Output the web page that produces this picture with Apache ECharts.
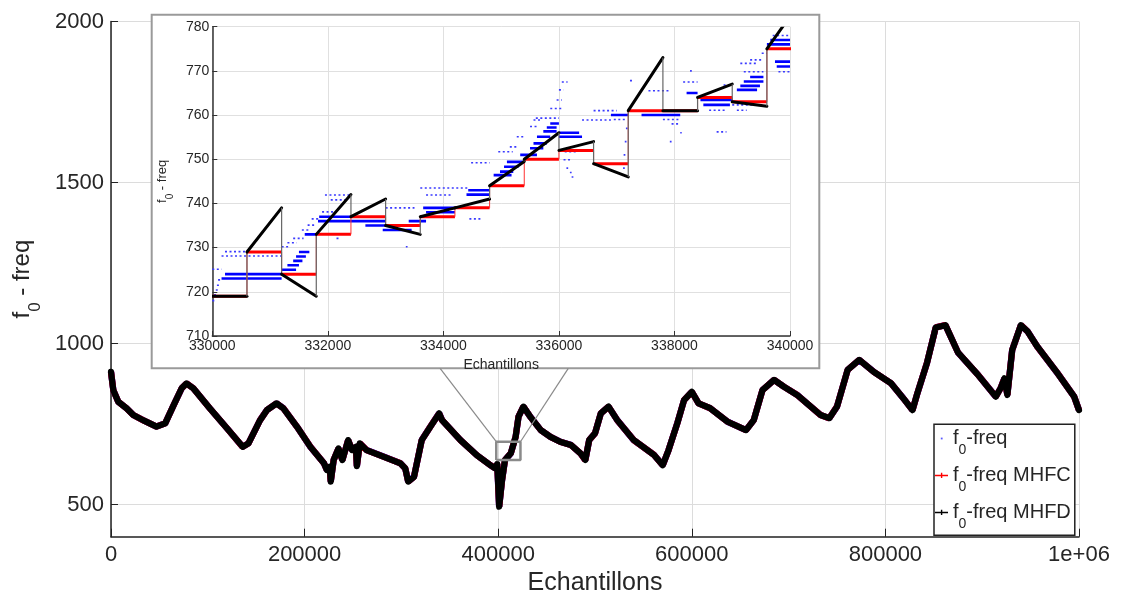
<!DOCTYPE html>
<html><head><meta charset="utf-8">
<script src="https://cdn.jsdelivr.net/npm/echarts@6.0.0/dist/echarts.min.js"></script>
<style>html,body{margin:0;padding:0;background:#fff;}#c{width:1122px;height:592px;}</style>
</head><body><div id="c"></div>
<script>
// ---------- main plot data : [sample, f0] ----------
const mainCurve = [[0,912],[2400,855],[7500,819],[16000,799],[23000,778],[33000,762],[47000,742],[56000,752],[64000,804],[73000,861],[78000,876],[85000,861],[102000,799],[120000,736],[136000,679],[142000,690],[154000,762],[161000,793],[171000,814],[178000,799],[192000,742],[206000,679],[220000,628],[223000,607],[226000,617],[227000,571],[230000,638],[235000,674],[239000,638],[245000,700],[249000,669],[253000,679],[254000,619],[257000,690],[264000,669],[282000,648],[299000,628],[304000,612],[307000,571],[313000,586],[321000,700],[330000,742],[339000,783],[342000,762],[361000,700],[378000,653],[392000,622],[397000,612],[399000,626],[401000,493],[404000,576],[407000,638],[413000,659],[418000,710],[421000,773],[426000,804],[433000,773],[444000,731],[454000,710],[464000,695],[475000,685],[485000,659],[490000,638],[494000,700],[500000,721],[506000,783],[514000,804],[523000,762],[540000,700],[561000,654],[570000,622],[576000,669],[585000,752],[592000,824],[600000,850],[607000,814],[619000,799],[637000,757],[656000,731],[664000,762],[673000,855],[685000,887],[695000,866],[709000,840],[719000,814],[733000,778],[742000,768],[750000,804],[761000,918],[773000,949],[788000,912],[806000,876],[819000,828],[828000,793],[833000,845],[843000,940],[852000,1050],[862000,1057],[875000,972],[895000,905],[914000,835],[919000,861],[923000,892],[926000,840],[931000,980],[940000,1057],[947000,1037],[957000,990],[978000,907],[995000,835],[1000000,793]];
const mainYTicks = [500, 1000, 1500, 2000];
const zoomBoxSamples = [398000, 423000];
const zoomBoxF0 = [638, 695];

// ---------- inset data ----------
const mhfBlockStart = [330000,330600,331200,331800,332400,333000,333600,334200,334800,335400,336000,336600,337200,337800,338400,339000,339600];
const mhfBlockEnd   = [330600,331200,331800,332400,333000,333600,334200,334800,335400,336000,336600,337200,337800,338400,339000,339600,340200];
const mhfcF0      = [719,729,724,733,737,735,737,739,744,750,752,749,761,761,764,763,775];
const mhfdF0Start = [719,729,724,733,737,735,737,739,744,750,752,749,761,761,764,763,775];
const mhfdF0End   = [719,739,719,742,741,733,739,741,749.5,756,754,746,773,761,767,762,786];
// raw f0 estimates: dense runs and sparse runs [fromSample, toSample, f0]
const blueDense = [[330160,331200,723],[330220,331200,724],[331200,331450,725],[331300,331500,726],[331400,331560,727],[331450,331620,728],[331500,331680,729],[331600,331800,733],[331830,332400,736],[331850,332400,737],[332400,333000,736],[332650,333100,735],[332950,333450,734],[333400,333700,736],[333650,334200,739],[333700,334200,738],[334400,334800,742],[334430,334800,743],[334870,335180,746.4],[334980,335210,747.2],[335050,335300,748.3],[335100,335390,749.4],[335330,335620,751],[335500,335730,752.5],[335560,335790,753.6],[335620,335850,755.1],[335730,335960,756.3],[335790,335960,757.2],[335850,336000,758.1],[336000,336350,756],[336000,336400,755.1],[336900,337200,760],[337430,338100,760],[338210,338400,765],[338450,339010,763.4],[338500,338960,762.3],[339080,339430,765.7],[339140,339480,766.6],[339200,339540,767.6],[339310,339540,768.6],[339600,340000,776],[339660,340000,777],[339740,340000,772.1],[339770,340000,771]];
const blueSparse = [[330000,330040,718],[330030,330070,719.3],[330060,330100,720.4],[330080,330120,721.5],[330100,330150,722.7],[330000,330160,725.1],[330160,331250,728.1],[330220,330600,729.1],[331200,331350,730.2],[331300,331460,731.1],[331400,331580,732.1],[331550,331700,734],[331650,331800,735.1],[331720,331850,736.5],[331900,332150,738.1],[332050,332300,740.8],[331950,332400,741.9],[332100,332250,733.1],[332150,332200,732.1],[332450,332950,737],[333000,333500,739],[333350,333380,730.2],[333600,334430,743.5],[333700,334150,741.9],[334450,334650,736.5],[334480,334800,749.2],[334950,335200,751.7],[335150,335300,752.8],[335270,335420,755.1],[335500,335620,757.4],[335560,335680,758.9],[335600,336000,759.3],[335850,336050,761.5],[335960,336050,763.4],[336000,336080,765.7],[336050,336150,767.5],[336100,336300,751.7],[336080,336200,749.9],[336130,336160,748],[336190,336220,747],[336220,336250,746],[336400,336900,758.9],[336600,337000,761],[336950,337150,759],[337110,337140,748],[337120,337150,751],[337140,337170,754],[337160,337190,757],[337230,337300,767.8],[337550,337930,765.5],[337800,338100,759],[337950,338100,758],[338100,338120,756],[337920,337950,754],[338150,338400,767.5],[338270,338300,770],[338600,338900,761.1],[338850,338990,766.8],[338730,338900,756.2],[339200,339540,769.8],[339140,339430,771.7],[339310,339540,772.5],[339000,339480,762.3],[339080,339250,761.1],[339800,340000,769.8],[339510,339600,774],[339700,340000,778]];

const FONT = 'Liberation Sans, Arial, Helvetica, sans-serif';
const TXT = '#262626';
function sub(mainSize, subSize, pad) {
  return {
    m: {fontSize: mainSize, lineHeight: mainSize, verticalAlign: 'top', fontFamily: FONT, color: TXT},
    s: {fontSize: subSize, lineHeight: subSize, verticalAlign: 'top', padding: [pad,0,0,0], fontFamily: FONT, color: TXT}
  };
}

const mhfcItems = mhfBlockStart.map((s, i) => [s, mhfBlockEnd[i], mhfcF0[i], i > 0 ? mhfcF0[i-1] : mhfcF0[i]]);
const mhfdItems = mhfBlockStart.map((s, i) => [s, mhfBlockEnd[i], mhfdF0Start[i], mhfdF0End[i], i > 0 ? mhfdF0End[i-1] : mhfdF0Start[i]]);

function runRenderer(width, dash, color) {
  return function (params, api) {
    const a = api.coord([api.value(0), api.value(2)]);
    const b = api.coord([api.value(1), api.value(2)]);
    return {type: 'line', shape: {x1: a[0], y1: a[1], x2: Math.max(b[0], a[0] + 1.5), y2: b[1]},
      style: {stroke: color, lineWidth: width, lineDash: dash}};
  };
}

const chart = echarts.init(document.getElementById('c'), null, {renderer: 'canvas'});
const option = {
  animation: false,
  backgroundColor: '#fff',
  grid: [
    {left: 111, top: 21.5, width: 968, height: 515.2, outerBoundsMode: 'none', containLabel: false},
    {left: 212.3, top: 26.7, width: 577.7, height: 309.3, z: 4, outerBoundsMode: 'none', containLabel: false}
  ],
  xAxis: [
    {type: 'value', gridIndex: 0, min: 0, max: 1000000, interval: 200000,
     axisLine: {lineStyle: {color: '#222', width: 1.5}},
     axisTick: {inside: true, length: 8, lineStyle: {color: '#222'}},
     axisLabel: {fontSize: 22, color: TXT, fontFamily: FONT, margin: 7, formatter: v => v === 1000000 ? '1e+06' : String(v)},
     splitLine: {show: true, lineStyle: {color: '#dcdcdc', width: 1}},
     name: 'Echantillons', nameLocation: 'middle', nameGap: 26,
     nameTextStyle: {fontSize: 25, color: TXT, fontFamily: FONT}},
    {type: 'value', gridIndex: 1, min: 330000, max: 340000, interval: 2000, z: 4,
     axisLine: {lineStyle: {color: '#333', width: 1.5}},
     axisTick: {inside: true, length: 5, lineStyle: {color: '#333'}},
     axisLabel: {fontSize: 14, color: TXT, fontFamily: FONT, margin: 3, formatter: v => String(v)},
     splitLine: {show: true, lineStyle: {color: '#e0e0e0', width: 1}},
     name: 'Echantillons', nameLocation: 'middle', nameGap: 9,
     nameTextStyle: {fontSize: 14, color: TXT, fontFamily: FONT}}
  ],
  yAxis: [
    {type: 'value', gridIndex: 0, min: 400, max: 2000,
     axisLine: {show: true, lineStyle: {color: '#222', width: 1.5}},
     axisTick: {show: true, inside: true, length: 7, lineStyle: {color: '#222'}, customValues: mainYTicks},
     axisLabel: {fontSize: 22, color: TXT, fontFamily: FONT, margin: 7, customValues: mainYTicks, formatter: v => String(v)},
     splitLine: {show: true, lineStyle: {color: '#dcdcdc', width: 1}},
     name: '{m|f}{s|0}{m| - freq}', nameLocation: 'middle', nameGap: 73,
     nameTextStyle: {rich: sub(24, 17, 17)}},
    {type: 'value', gridIndex: 1, min: 710, max: 780, interval: 10, z: 4,
     axisLine: {show: true, lineStyle: {color: '#333', width: 1.5}},
     axisTick: {show: true, inside: true, length: 5, lineStyle: {color: '#333'}},
     axisLabel: {fontSize: 14, color: TXT, fontFamily: FONT, margin: 3, formatter: v => String(v)},
     splitLine: {show: true, lineStyle: {color: '#e0e0e0', width: 1}},
     name: '{m|f}{s|0}{m| - freq}', nameLocation: 'middle', nameGap: 29,
     nameTextStyle: {rich: sub(13, 10, 9)}}
  ],
  legend: {
    orient: 'vertical', left: 934, top: 424.3, z: 10,
    backgroundColor: '#fff', borderColor: '#222', borderWidth: 1.5, borderRadius: 0,
    padding: [4, 4, 4, 1], itemGap: 8, itemWidth: 13, itemHeight: 13,
    itemStyle: {borderWidth: 0},
    formatter: n => '{m|f}{s|0}{m|' + n.slice(2) + '}',
    textStyle: {rich: sub(20, 14, 15)},
    data: [
      {name: 'f0-freq', icon: 'path://M0 0 M13 13 M5.8 5.8 L7.6 5.8 L7.6 7.6 L5.8 7.6 Z', itemStyle: {color: '#5a5aff'}},
      {name: 'f0-freq MHFC', icon: 'path://M0 0 M13 13 M0 5.9 L13 5.9 L13 7.4 L0 7.4 Z M5.9 4 L7.3 4 L7.3 9.3 L5.9 9.3 Z', itemStyle: {color: '#ff0000'}},
      {name: 'f0-freq MHFD', icon: 'path://M0 0 M13 13 M0 5.9 L13 5.9 L13 7.4 L0 7.4 Z M5.9 4 L7.3 4 L7.3 9.3 L5.9 9.3 Z', itemStyle: {color: '#000000'}}
    ]
  },
  series: [
    {name: 'f0-freq', type: 'line', xAxisIndex: 0, yAxisIndex: 0, data: mainCurve, showSymbol: false, symbol: 'none',
     lineStyle: {color: '#0000ff', width: 6.4}, itemStyle: {color: '#5a5aff'}, z: 2},
    {name: 'f0-freq MHFC', type: 'line', xAxisIndex: 0, yAxisIndex: 0, data: mainCurve, showSymbol: false, symbol: 'none',
     lineStyle: {color: '#ff0000', width: 6.3}, itemStyle: {color: '#ff0000'}, z: 2},
    {name: 'f0-freq MHFD', type: 'line', xAxisIndex: 0, yAxisIndex: 0, data: mainCurve, showSymbol: false, symbol: 'none',
     lineStyle: {color: '#000000', width: 6.2, join: 'round', cap: 'round'}, itemStyle: {color: '#000000'}, z: 2},
    {name: 'zoombox', type: 'line', xAxisIndex: 0, yAxisIndex: 0, symbol: 'none', z: 3, silent: true,
     data: [[zoomBoxSamples[0], zoomBoxF0[0]], [zoomBoxSamples[1], zoomBoxF0[0]], [zoomBoxSamples[1], zoomBoxF0[1]], [zoomBoxSamples[0], zoomBoxF0[1]], [zoomBoxSamples[0], zoomBoxF0[0]]],
     lineStyle: {color: '#8a8a8a', width: 2.5}},
    // inset
    {name: 'f0-freq', type: 'custom', xAxisIndex: 1, yAxisIndex: 1, z: 5, clip: true, silent: true,
     itemStyle: {color: '#5a5aff'}, data: blueSparse, renderItem: runRenderer(1.6, [2, 2.5], '#3a3aff')},
    {name: 'f0-freq', type: 'custom', xAxisIndex: 1, yAxisIndex: 1, z: 5, clip: true, silent: true,
     itemStyle: {color: '#5a5aff'}, data: blueDense, renderItem: runRenderer(2.6, null, '#0000ff')},
    {name: 'f0-freq MHFC', type: 'custom', xAxisIndex: 1, yAxisIndex: 1, z: 6, clip: true, silent: true,
     itemStyle: {color: '#ff0000'}, data: mhfcItems,
     renderItem: function (params, api) {
       const p0 = api.coord([api.value(0), api.value(3)]);
       const a = api.coord([api.value(0), api.value(2)]);
       const b = api.coord([api.value(1), api.value(2)]);
       return {type: 'group', children: [
         {type: 'line', shape: {x1: p0[0], y1: p0[1], x2: a[0], y2: a[1]}, style: {stroke: '#ff3030', lineWidth: 1}},
         {type: 'line', shape: {x1: a[0], y1: a[1], x2: b[0], y2: b[1]}, style: {stroke: '#ff0000', lineWidth: 3}}
       ]};
     }},
    {name: 'f0-freq MHFD', type: 'custom', xAxisIndex: 1, yAxisIndex: 1, z: 7, clip: true, silent: true,
     itemStyle: {color: '#000000'}, data: mhfdItems,
     renderItem: function (params, api) {
       const p0 = api.coord([api.value(0), api.value(4)]);
       const a = api.coord([api.value(0), api.value(2)]);
       const b = api.coord([api.value(1), api.value(3)]);
       return {type: 'group', children: [
         {type: 'line', shape: {x1: p0[0], y1: p0[1], x2: a[0], y2: a[1]}, style: {stroke: '#666', lineWidth: 1.2}},
         {type: 'line', shape: {x1: a[0], y1: a[1], x2: b[0], y2: b[1]}, style: {stroke: '#000', lineWidth: 3, lineCap: 'round'}}
       ]};
     }}
  ]
};
chart.setOption(option);

// inset frame + connectors
const frame = {x: 151.7, y: 14.7, w: 667.6, h: 353.6};
const tl = chart.convertToPixel({xAxisIndex: 0, yAxisIndex: 0}, [zoomBoxSamples[0], zoomBoxF0[1]]);
const tr = chart.convertToPixel({xAxisIndex: 0, yAxisIndex: 0}, [zoomBoxSamples[1], zoomBoxF0[1]]);
const fb = frame.y + frame.h;
chart.setOption({graphic: {elements: [
  {type: 'rect', z: 3, silent: true, shape: {x: frame.x, y: frame.y, width: frame.w, height: frame.h},
   style: {fill: '#fff', stroke: '#9a9a9a', lineWidth: 2}},
  {type: 'line', z: 3, silent: true, shape: {x1: tl[0], y1: tl[1], x2: frame.x + frame.w * 0.432, y2: fb}, style: {stroke: '#8a8a8a', lineWidth: 1.2}},
  {type: 'line', z: 3, silent: true, shape: {x1: tr[0], y1: tr[1], x2: frame.x + frame.w * 0.624, y2: fb}, style: {stroke: '#8a8a8a', lineWidth: 1.2}}
]}});
</script></body></html>
